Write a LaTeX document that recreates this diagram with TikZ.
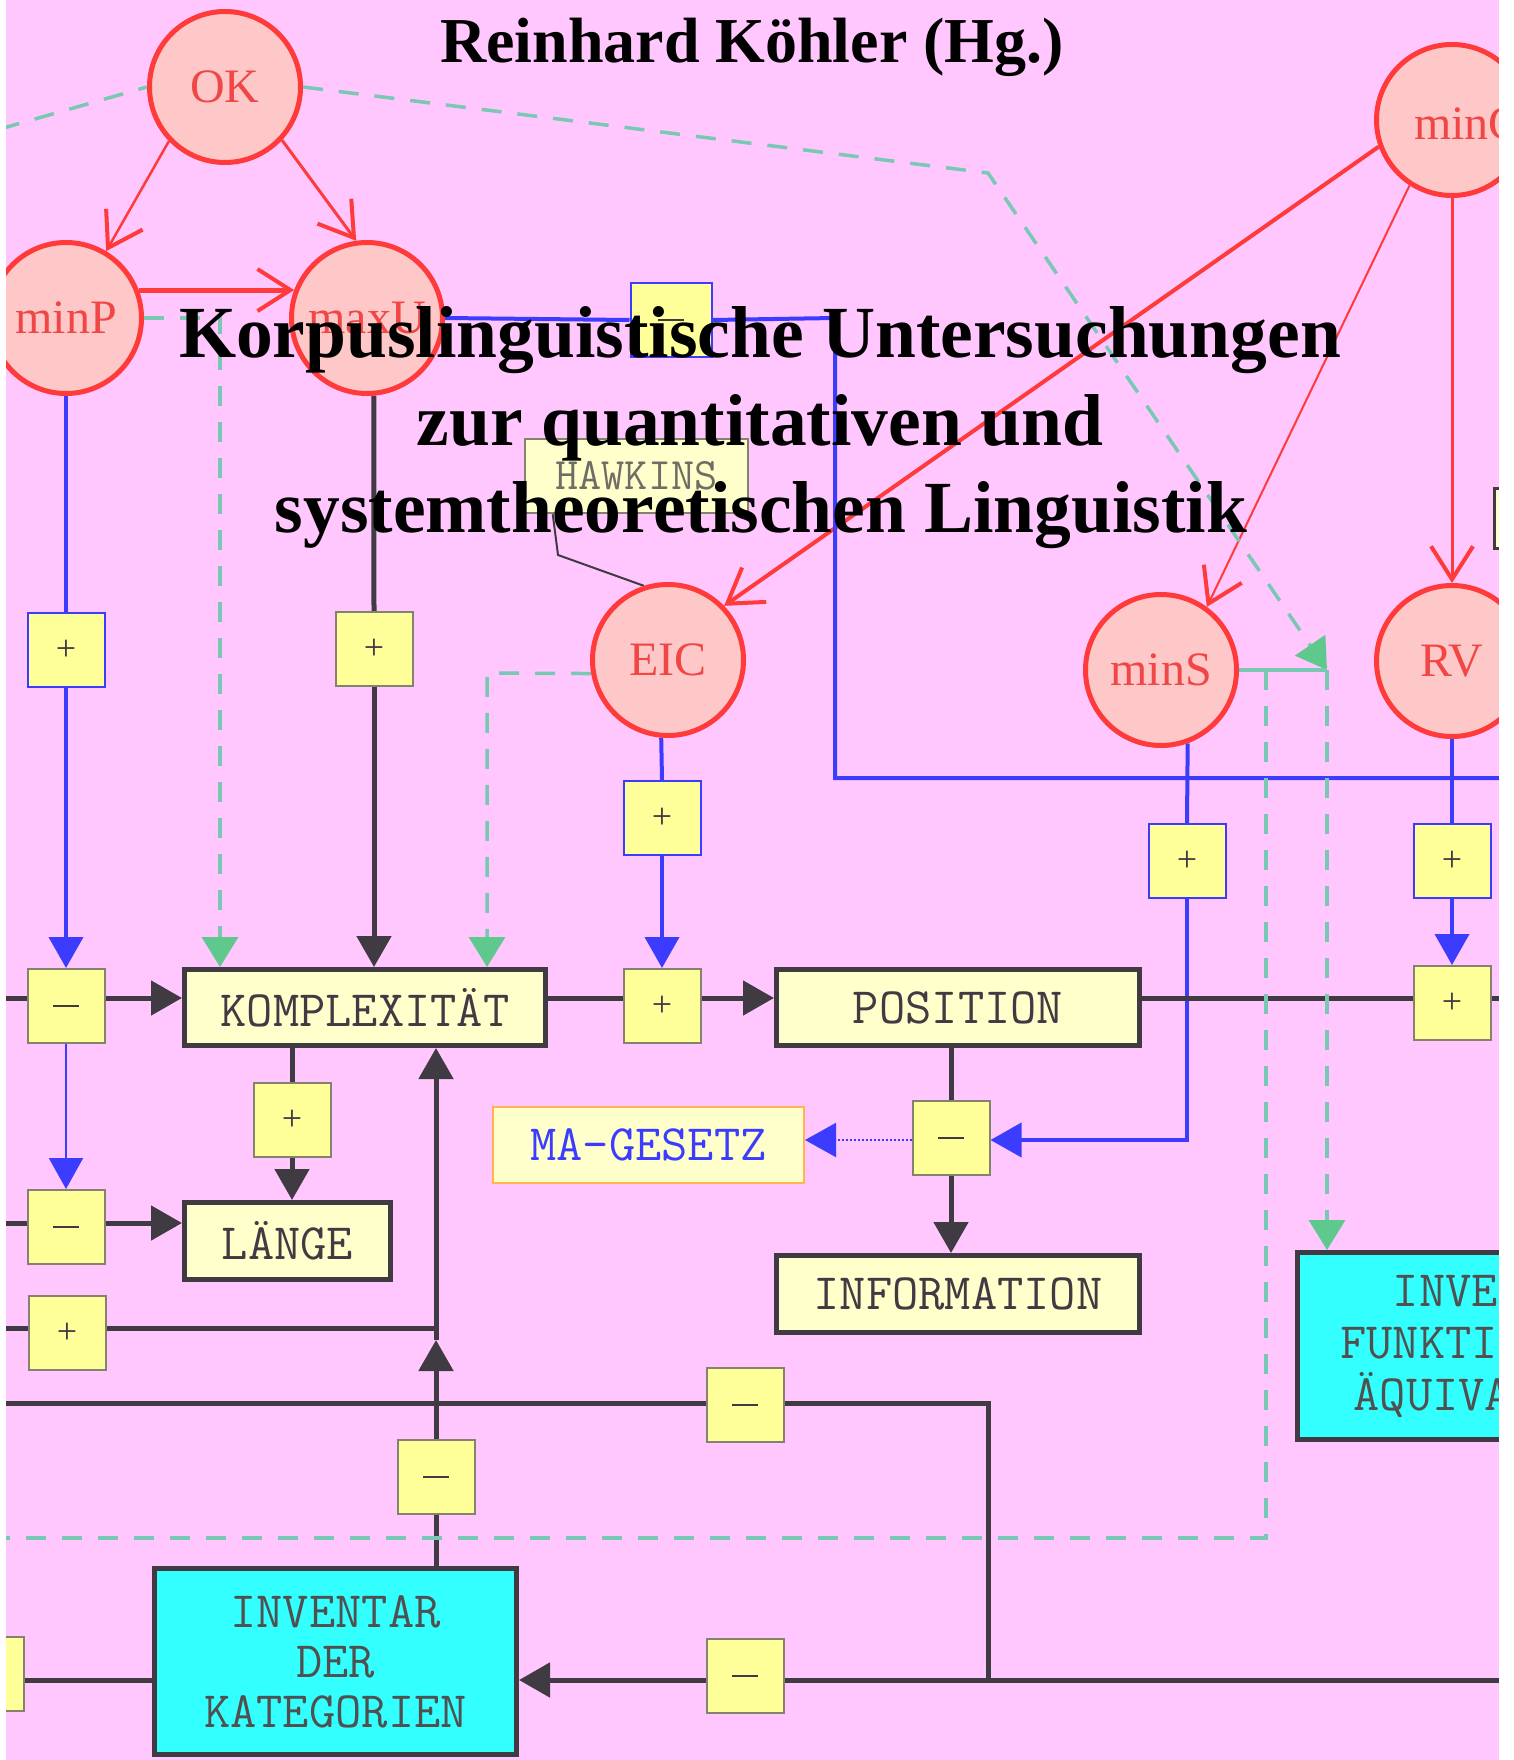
\documentclass[tikz,border=0pt]{standalone}
\usepackage{fontspec}
\usetikzlibrary{arrows.meta,calc}
\newfontfamily\serifL{Liberation Serif}
\definecolor{pinkbg}{RGB}{255,199,254}
\definecolor{circfill}{RGB}{255,200,200}
\definecolor{redc}{RGB}{255,58,58}
\definecolor{redtext}{RGB}{240,70,70}
\definecolor{bluec}{RGB}{60,60,255}
\definecolor{darkc}{RGB}{64,58,66}
\definecolor{tealc}{RGB}{120,200,180}
\definecolor{tealarr}{RGB}{95,200,140}
\definecolor{yel}{RGB}{255,255,153}
\definecolor{lyel}{RGB}{255,255,204}
\definecolor{cyanc}{RGB}{51,255,255}
\definecolor{orangec}{RGB}{255,180,80}
\definecolor{grayb}{RGB}{130,130,110}
\definecolor{hawk}{RGB}{110,110,100}
\definecolor{invtext}{RGB}{80,80,80}
\pgfdeclarelayer{back}
\pgfdeclarelayer{mid}
\pgfsetlayers{back,mid,main}
\newcommand\mminus{\rule{26pt}{2.5pt}}
\newcommand\pplus{{\serifL\fontsize{36}{36}\selectfont +}}
\tikzset{
 redcirc/.style={circle, draw=redc, line width=5pt, fill=circfill, minimum size=151pt, inner sep=0pt, text=redtext, font=\serifL\fontsize{48}{48}\selectfont},
 sbox/.style={rectangle, draw=grayb, line width=2pt, fill=yel, minimum width=77pt, minimum height=74pt, inner sep=0pt, text=darkc, font=\serifL},
 sboxb/.style={sbox, draw=bluec},
 bigbox/.style={rectangle, draw=darkc, line width=5pt, fill=lyel, inner sep=0pt, text=darkc, font=\ttfamily\fontsize{51}{50}\selectfont},
 darkline/.style={draw=darkc, line width=5pt},
 blueline/.style={draw=bluec, line width=4pt},
 redline/.style={draw=redc, -{Straight Barb[length=33pt,width=42pt,line width=4pt]}},
 arrtip/.style={-{Triangle[length=31pt,width=34pt]}},
 tealdash/.style={draw=tealc, line width=3.5pt, dash pattern=on 20pt off 16pt},
 tealtip/.style={-{Triangle[length=30pt,width=36pt,color=tealarr]}},
 titlefont/.style={font=\serifL\bfseries\fontsize{73.5}{88}\selectfont, anchor=base, text=black, inner sep=0pt},
}
\begin{document}
\begin{tikzpicture}[x=1pt,y=-1pt]
\useasboundingbox (0,0) rectangle (1513,1760);
\begin{pgfonlayer}{back}
\fill[white] (0,0) rectangle (1513,1760);
\fill[pinkbg] (6,0) rectangle (1499,1760);
\end{pgfonlayer}

% circles
\node[redcirc] (OK) at (225,87) {OK};
\node[redcirc] (minP) at (66,318) {minP};
\node[redcirc] (maxU) at (367,318) {maxU};
\node[redcirc] (EIC) at (668,660) {EIC};
\node[redcirc] (minS) at (1161,670) {minS};
\node[redcirc] (RV) at (1452,661) {RV};
\node[redcirc] (minC) at (1452,120) {};
\node[anchor=base west, inner sep=0pt, text=redtext, font=\serifL\fontsize{48}{48}\selectfont] (minCl) at (1414,140) {minC};

% small boxes
\node[sboxb, minimum width=81pt] (bm0) at (671,320) {\mminus};
\node[sboxb] (bp1) at (66,650) {\pplus};
\node[sbox] (bp2) at (374,649) {\pplus};
\node[sboxb] (bp3) at (662,818) {\pplus};
\node[sboxb] (bp6) at (1187,861) {\pplus};
\node[sboxb] (bp7) at (1452,861) {\pplus};
\node[sbox] (bm1) at (66,1006) {\mminus};
\node[sbox] (bp4) at (662,1006) {\pplus};
\node[sbox] (bp5) at (1452,1003) {\pplus};
\node[sbox] (bm2) at (951,1138) {\mminus};
\node[sbox] (bp8) at (292,1120) {\pplus};
\node[sbox] (bm3) at (66,1227) {\mminus};
\node[sbox] (bp9) at (67,1333) {\pplus};
\node[sbox] (bm4) at (745,1405) {\mminus};
\node[sbox] (bm5) at (436,1477) {\mminus};
\node[sbox] (bm6) at (745,1676) {\mminus};
\node[sbox] (bL) at (-15,1674) {};

% big boxes
\node[bigbox, minimum width=361pt, minimum height=76pt] (KOMP) at (365,1007.5) {KOMPLEXITÄT};
\node[bigbox, minimum width=363pt, minimum height=76pt] (POS) at (958,1007.5) {POSITION};
\node[bigbox, minimum width=206pt, minimum height=77pt] (LAENGE) at (287.5,1241) {LÄNGE};
\node[bigbox, minimum width=363pt, minimum height=77pt] (INFO) at (958,1294) {INFORMATION};
\node[bigbox, draw=orangec, line width=2pt, text=bluec, minimum width=311pt, minimum height=76pt] (MAG) at (648.5,1145) {MA-GESETZ};
\node[bigbox, draw=grayb, line width=2.5pt, text=hawk, font=\ttfamily\fontsize{45}{45}\selectfont, minimum width=223pt, minimum height=74pt] (HAW) at (636.5,476) {HAWKINS};
\node[bigbox, fill=cyanc, text=invtext, align=center, minimum width=362pt, minimum height=186pt] (INVK) at (335.5,1661.5) {INVENTAR\\DER\\KATEGORIEN};
\node[bigbox, fill=cyanc, text=invtext, align=center, font=\ttfamily\fontsize{51}{52}\selectfont, minimum width=402pt, minimum height=187pt] (INVF) at (1498,1346) {INVENTAR\\FUNKTIONALER\\ÄQUIVALENTE};
\node[bigbox, line width=3pt, minimum width=120pt, minimum height=60pt] (RB) at (1554,518.5) {};

\begin{pgfonlayer}{mid}
% red arrows
\draw[redline, line width=2.5pt] (OK.224) -- (minP.59);
\draw[redline, line width=3pt] (OK.317) -- (maxU.98);
\draw[redline, line width=5pt] (minP.21) -- (maxU.159);
\draw[redline, line width=4pt] (minC.200) -- (EIC.44);
\draw[redline, line width=2pt] (minC.237) -- (minS.54);
\draw[redline, line width=3pt] (minC.south) -- (RV.north);

% blue
\coordinate (cb1) at (835,318);
\coordinate (cb2) at (835,778);
\coordinate (cb3) at (1520,778);
\draw[blueline] (maxU.east) -- (bm0.west);
\draw[blueline] (bm0.east) -- (cb1) -- (cb2) -- (cb3);
\draw[blueline] (minP.south) -- (bp1.north);
\draw[blueline, arrtip] (bp1.south) -- (bm1.north);
\draw[blueline, line width=2pt, arrtip] (bm1.south) -- (bm3.north);
\draw[blueline] (EIC.-95) -- (bp3.north);
\draw[blueline, arrtip] (bp3.south) -- (bp4.north);
\coordinate (cm1) at (1187,1140);
\draw[blueline] (minS.-70) -- (bp6.north);
\draw[blueline, arrtip] (bp6.south) -- (cm1) -- (bm2.east |- cm1);
\draw[blueline, line width=2pt, dash pattern=on 2pt off 2pt, arrtip] (bm2.west |- cm1) -- (MAG.east |- cm1);
\draw[blueline] (RV.south) -- (bp7.north);
\draw[blueline, arrtip] (bp7.south) -- (bp5.north);

% dark
\coordinate (r1) at (0,998);
\coordinate (r1e) at (1520,998);
\draw[darkline] (r1) -- (bm1.west |- r1);
\draw[darkline, arrtip] (bm1.east |- r1) -- (KOMP.west |- r1);
\draw[darkline] (KOMP.east |- r1) -- (bp4.west |- r1);
\draw[darkline, arrtip] (bp4.east |- r1) -- (POS.west |- r1);
\draw[darkline] (POS.east |- r1) -- (bp5.west |- r1);
\draw[darkline] (bp5.east |- r1) -- (r1e);
\draw[darkline] (maxU.-85) -- (bp2.north);
\draw[darkline, arrtip] (bp2.south) -- (KOMP.north -| bp2);
\draw[darkline] (KOMP.south -| bp8) -- (bp8.north);
\draw[darkline, arrtip] (bp8.south) -- (LAENGE.north -| bp8);
\draw[darkline] (POS.south -| bm2) -- (bm2.north);
\draw[darkline, arrtip] (bm2.south) -- (INFO.north -| bm2);
\coordinate (r2) at (0,1223);
\draw[darkline] (r2) -- (bm3.west |- r2);
\draw[darkline, arrtip] (bm3.east |- r2) -- (LAENGE.west |- r2);
\coordinate (r3) at (0,1328);
\coordinate (j1) at (436,1328);
\coordinate (a1) at (436,1340);
\draw[darkline] (r3) -- (bp9.west |- r3);
\draw[darkline] (bp9.east |- r3) -- (j1);
\draw[darkline, arrtip] (bm5.north) -- (a1);
\draw[darkline] (a1) -- (j1);
\draw[darkline, arrtip] (j1) -- (KOMP.south -| j1);
\draw[darkline] (INVK.north -| bm5) -- (bm5.south);
\coordinate (r4) at (0,1403);
\coordinate (c4) at (988,1403);
\coordinate (c5) at (988,1680);
\coordinate (r5e) at (1520,1680);
\draw[darkline] (r4) -- (bm4.west |- r4);
\draw[darkline] (bm4.east |- r4) -- (c4) -- (c5);
\draw[darkline] (r5e) -- (bm6.east |- c5);
\draw[darkline, arrtip] (bm6.west |- c5) -- (INVK.east |- c5);
\draw[darkline] (bL.east |- c5) -- (INVK.west |- c5);
\coordinate (h1) at ($(HAW.south west)+(29,0)$);
\coordinate (h2) at (558,555);
\draw[darkline, line width=2pt] (h1) -- (h2) -- (EIC.108);

% teal dashed
\coordinate (cl) at (0,129);
\coordinate (cd1) at (988,173);
\coordinate (jf) at (1327,670);
\draw[tealdash] (cl) -- (OK.west);
\draw[tealdash, tealtip] (OK.east) -- (cd1) -- (jf);
\draw[draw=tealc, line width=3.5pt] (minS.east) -- (jf);
\draw[tealdash, tealtip] (jf) -- (INVF.north -| jf);
\coordinate (cs1) at (1266,670);
\coordinate (cs2) at (1266,1538);
\coordinate (cs3) at (0,1538);
\draw[tealdash] (cs1) -- (cs2) -- (cs3);
\coordinate (cdp) at (220,318);
\draw[tealdash, tealtip] (minP.east) -- (cdp) -- (KOMP.north -| cdp);
\coordinate (ced) at (487,673);
\draw[tealdash, tealtip] (EIC.190) -- (ced) -- (KOMP.north -| ced);
\end{pgfonlayer}

% title
\node[titlefont, font=\serifL\bfseries\fontsize{64}{64}\selectfont] (t0) at (752,63) {Reinhard Köhler (Hg.)};
\node[titlefont] (t1) at (760,357) {Korpuslinguistische Untersuchungen};
\node[titlefont] (t2) at (760,445) {zur quantitativen und};
\node[titlefont] (t3) at (761,532) {systemtheoretischen Linguistik};

% white margins
\fill[white] (-40,-40) rectangle (6,1800);
\fill[white] (1499,-40) rectangle (1560,1800);
\end{tikzpicture}
\end{document}
